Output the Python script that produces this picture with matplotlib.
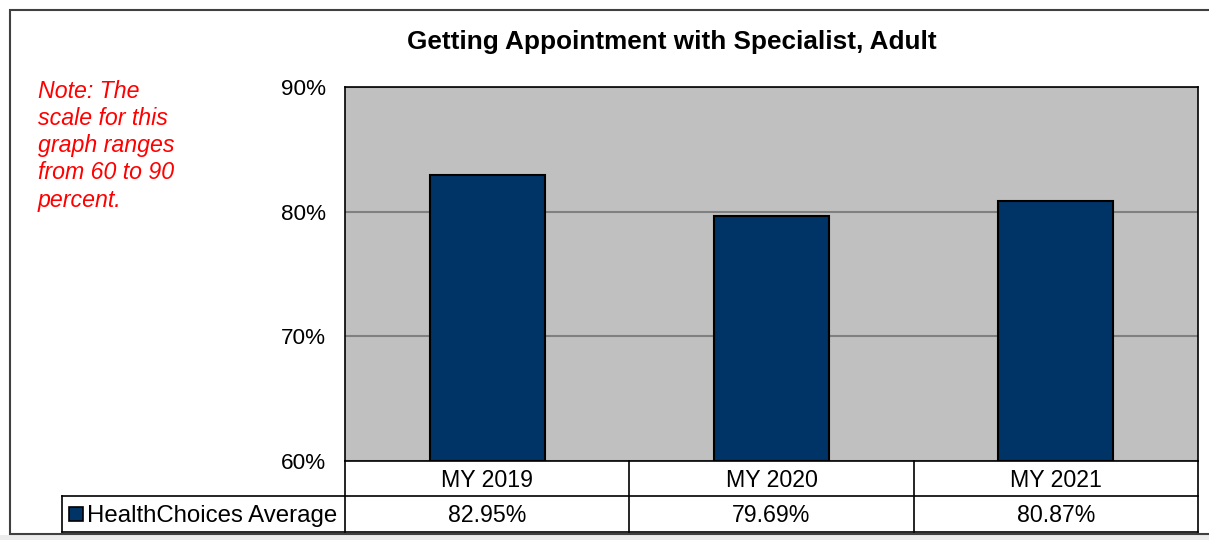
import matplotlib.pyplot as plt
from matplotlib.patches import Rectangle
from matplotlib.lines import Line2D
import matplotlib.transforms as mtransforms

plt.rcParams["font.family"] = ["Liberation Sans", "DejaVu Sans"]

categories = ["MY 2019", "MY 2020", "MY 2021"]
values = [82.95, 79.69, 80.87]
series_name = "HealthChoices Average"
title = "Getting Appointment with Specialist, Adult"
note = "Note: The\nscale for this\ngraph ranges\nfrom 60 to 90\npercent."
yticks = [60, 70, 80, 90]

W, H = 1209, 540
fig = plt.figure(figsize=(W / 100, H / 100), dpi=100)
fs = 16.7


def fx(px):
    return px / W


def fy(py):
    return 1 - py / H


# outer chart frame (runs off the right edge like the screenshot)
fig.add_artist(Rectangle((0, 0), 1, fy(535), transform=fig.transFigure,
                         facecolor="#ececec", edgecolor="none", zorder=0))
fig.add_artist(Rectangle((fx(10), fy(534)), 1.1, fy(10) - fy(534),
                         transform=fig.transFigure, facecolor="white",
                         edgecolor="#404040", linewidth=1.5, zorder=0.5))

left, right, top, bottom = 345, 1198, 87, 461
ax = fig.add_axes([fx(left), fy(bottom), fx(right) - fx(left), fy(top) - fy(bottom)])
ax.set_zorder(2)
ax.set_facecolor("#c0c0c0")
ax.set_xlim(-0.5, len(categories) - 0.5)
ax.set_ylim(yticks[0], yticks[-1])
ax.set_yticks(yticks)
ax.set_yticklabels([f"{t}%" for t in yticks], fontsize=16.2)
ax.tick_params(axis="y", length=0, pad=13.5)
ax.set_xticks([])
ax.yaxis.grid(True, color="#808080", linewidth=1.5)
ax.set_axisbelow(True)
for s in ax.spines.values():
    s.set_color("black")
    s.set_linewidth(1.2)

xs = list(range(len(categories)))
ax.bar(xs, [v - yticks[0] for v in values], bottom=yticks[0], width=0.405,
       color="#003366", edgecolor="black", linewidth=1.5, zorder=3)

fig.text(fx(672), fy(42), title, fontsize=18.8, fontweight="bold",
         ha="center", va="center", zorder=3)

# note in red italic
fig.text(fx(38), fy(80), note, color="red", fontstyle="italic", fontsize=fs,
         va="top", ha="left", linespacing=1.23, zorder=3)

# data table below the plot
trans = mtransforms.blended_transform_factory(ax.transData, fig.transFigure)
row1_top, row1_bot, row2_bot = fy(461), fy(496), fy(532)
lw = 1.2
kw = dict(transform=fig.transFigure, color="black", lw=lw, zorder=3)
fig.add_artist(Line2D([fx(62), fx(right)], [row1_bot, row1_bot], **kw))
fig.add_artist(Line2D([fx(62), fx(right)], [row2_bot, row2_bot], **kw))
fig.add_artist(Line2D([fx(62), fx(62)], [row1_bot, row2_bot], **kw))
for b in [x - 0.5 for x in xs] + [xs[-1] + 0.5]:
    fig.add_artist(Line2D([b, b], [row1_top, row2_bot], transform=trans,
                          color="black", lw=lw, zorder=3))
for x, cat, v in zip(xs, categories, values):
    fig.text(x, (row1_top + row1_bot) / 2 - 2 / H, cat, transform=trans,
             ha="center", va="center", fontsize=fs, zorder=3)
    fig.text(x, (row1_bot + row2_bot) / 2 - 2 / H, f"{v:.2f}%", transform=trans,
             ha="center", va="center", fontsize=fs, zorder=3)

# legend key in the row header
ymid = (row1_bot + row2_bot) / 2
fig.add_artist(Rectangle((fx(69), ymid - 7 / H), 14 / W, 14 / H,
                         transform=fig.transFigure, facecolor="#003366",
                         edgecolor="black", linewidth=1.2, zorder=3))
fig.text(fx(87), ymid - 2 / H, series_name, ha="left", va="center",
         fontsize=17.3, zorder=3)

fig.savefig("out.png", dpi=100)
